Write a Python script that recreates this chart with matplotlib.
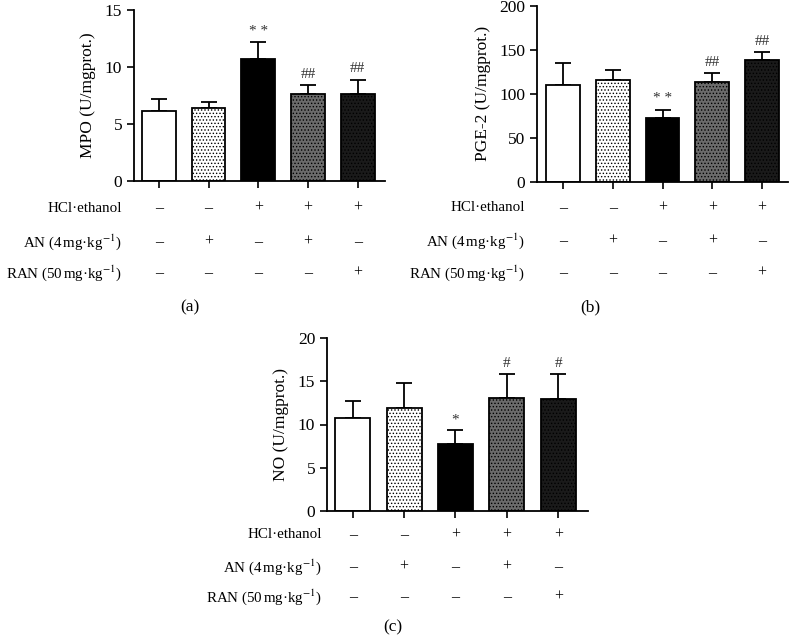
import matplotlib
matplotlib.use('Agg')
import matplotlib.pyplot as plt

plt.rcParams['font.family'] = ['Liberation Serif', 'DejaVu Serif']
plt.rcParams['mathtext.fontset'] = 'stix'
plt.rcParams['hatch.linewidth'] = 0.6

# data
groups = [0, 1, 2, 3, 4]
mpo = [6.15, 6.38, 10.7, 7.66, 7.66]
mpo_err = [1.02, 0.52, 1.5, 0.74, 1.24]
mpo_marks = ['', '', '* *', '##', '##']

pge2 = [109.8, 115.5, 72.9, 113.2, 138.3]
pge2_err = [25.2, 12.0, 9.1, 10.6, 9.7]
pge2_marks = ['', '', '* *', '##', '##']

no = [10.75, 11.9, 7.75, 13.06, 12.98]
no_err = [1.93, 2.93, 1.58, 2.74, 2.89]
no_marks = ['', '', '*', '#', '#']

row_labels = ['HCl·ethanol', 'AN (4$\\,$mg·kg$^{-1}$)', 'RAN (50$\\,$mg·kg$^{-1}$)']
row_signs = [['–', '–', '+', '+', '+'],
             ['–', '+', '–', '+', '–'],
             ['–', '–', '–', '–', '+']]

faces = ['white', 'white', 'black', '#6b6b6b', '#1a1a1a']
hatches = [None, '.....', None, '.....', '.....']

W, H = 789, 637
fig = plt.figure(figsize=(W / 100, H / 100), dpi=100)


def panel(rect_px, values, errs, marks, ylim, yticks, ylabel, xlim,
          row_off, label_dx, caption, caption_xy):
    left, top, right, bottom = rect_px
    ax = fig.add_axes([left / W, (H - bottom) / H, (right - left) / W, (bottom - top) / H])
    ax.bar(groups, values, width=0.68, color=faces, edgecolor='black',
           linewidth=1.3, hatch=hatches, zorder=2)
    ax.errorbar(groups, values, yerr=[[0] * 5, errs], fmt='none', ecolor='black',
                elinewidth=1.3, capsize=5.5, capthick=1.3, zorder=1)
    for x, v, e, m in zip(groups, values, errs, marks):
        if m:
            ax.annotate(m, (x, v + e), xytext=(0, 3), textcoords='offset points',
                        ha='center', va='bottom', fontsize=11, color='#333333')
    ax.set_ylim(ylim)
    ax.set_xlim(xlim)
    ax.set_yticks(yticks)
    ax.set_xticks(groups)
    ax.set_xticklabels([])
    ax.set_ylabel(ylabel, fontsize=12.5, labelpad=6)
    ax.tick_params(axis='both', width=1.2, length=5, labelsize=12.5)
    for s in ['top', 'right']:
        ax.spines[s].set_visible(False)
    for s in ['left', 'bottom']:
        ax.spines[s].set_linewidth(1.3)
    h = bottom - top
    w = right - left
    tr = ax.get_xaxis_transform()
    for r, lab in enumerate(row_labels):
        yy = -row_off[r] / h
        ax.text(-label_dx / w, yy, lab, transform=ax.transAxes, ha='right',
                va='center', fontsize=10.8)
        for x, s in zip(groups, row_signs[r]):
            ax.text(x, yy, s, transform=tr, ha='center', va='center', fontsize=11.5)
    fig.text(caption_xy[0] / W, 1 - caption_xy[1] / H, caption, ha='center',
             va='center', fontsize=12.5)
    return ax


panel((134, 10, 385, 181), mpo, mpo_err, mpo_marks, (0, 15), [0, 5, 10, 15],
      'MPO (U/mgprot.)', (-0.5, 4.55), [27, 61, 92], 12, '(a)', (190, 307))
panel((537, 6, 788, 181.7), pge2, pge2_err, pge2_marks, (0, 200), [0, 50, 100, 150, 200],
      'PGE-2 (U/mgprot.)', (-0.52, 4.52), [26, 59, 91], 12, '(b)', (590, 307))
panel((327, 338, 588, 511), no, no_err, no_marks, (0, 20), [0, 5, 10, 15, 20],
      'NO (U/mgprot.)', (-0.5, 4.58), [24, 56, 86], 5, '(c)', (393, 627))

fig.savefig('out.png', dpi=100)
